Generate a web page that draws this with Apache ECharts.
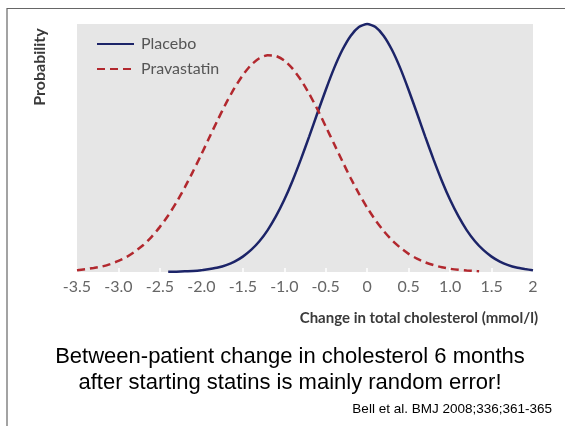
<!DOCTYPE html>
<html><head><meta charset="utf-8">
<script src="https://cdn.jsdelivr.net/npm/echarts@6/dist/echarts.min.js"></script>
<style>html,body{margin:0;padding:0;background:#fff}#c{width:565px;height:426px}</style>
</head><body><div id="c"></div>
<script>
const xTickLabels = ['-3.5','-3.0','-2.5','-2.0','-1.5','-1.0','-0.5','0','0.5','1.0','1.5','2'];
const seriesNames = ['Placebo', 'Pravastatin'];
const placeboX = [-2.4,-2.3,-2.2,-2.1,-2.0,-1.9,-1.8,-1.7,-1.6,-1.5,-1.4,-1.3,-1.2,-1.1,-1.0,-0.9,-0.8,-0.7,-0.6,-0.5,-0.4,-0.3,-0.2,-0.1,0,
  0.1,0.2,0.3,0.4,0.5,0.6,0.7,0.8,0.9,1.0,1.1,1.2,1.3,1.4,1.5,1.6,1.7,1.8,1.9,2.0];
const placeboY = [0.001,0.0015,0.003,0.004,0.007,0.012,0.018,0.028,0.042,0.062,0.089,0.124,0.169,0.225,0.291,0.368,0.454,0.546,0.641,0.734,0.821,0.895,0.952,0.988,1.0,
  0.988,0.952,0.895,0.821,0.734,0.641,0.546,0.454,0.368,0.291,0.225,0.169,0.124,0.089,0.062,0.042,0.028,0.018,0.012,0.007];
const pravaX = [-3.5,-3.4,-3.3,-3.2,-3.1,-3.0,-2.9,-2.8,-2.7,-2.6,-2.5,-2.4,-2.3,-2.2,-2.1,-2.0,-1.9,-1.8,-1.7,-1.6,-1.5,-1.4,-1.3,-1.2,-1.1,
  -1.0,-0.9,-0.8,-0.7,-0.6,-0.5,-0.4,-0.3,-0.2,-0.1,0,0.1,0.2,0.3,0.4,0.5,0.6,0.7,0.8,0.9,1.0,1.1,1.2,1.3,1.35];
const pravaY = [0.007,0.011,0.016,0.022,0.032,0.045,0.061,0.083,0.109,0.142,0.182,0.228,0.281,0.341,0.406,0.474,0.545,0.615,0.682,0.742,0.794,0.835,0.862,0.874,0.871,
  0.853,0.820,0.775,0.719,0.656,0.587,0.517,0.447,0.379,0.316,0.259,0.209,0.165,0.128,0.098,0.073,0.054,0.039,0.028,0.019,0.013,0.009,0.006,0.004,0.003];

const chart = echarts.init(document.getElementById('c'), null, {renderer: 'canvas'});
const xMin = -3.5, xMax = 2, xStep = 0.5;
const font = 'Lato';
chart.setOption({
  animation: false,
  backgroundColor: '#ffffff',
  grid: {left: 77, right: 32, top: 24, bottom: 154, show: true, backgroundColor: '#e6e6e6', borderWidth: 0},
  legend: {
    data: seriesNames, orient: 'vertical', left: 91, top: 31,
    itemWidth: 37, itemHeight: 14, itemGap: 9,
    itemStyle: {opacity: 0},
    textStyle: {fontFamily: font, fontSize: 16, color: '#555555', padding: [0,0,0,2]}
  },
  xAxis: {
    type: 'value', min: xMin, max: xMax, interval: xStep,
    axisLine: {show: false},
    axisTick: {show: true, inside: true, length: 4, lineStyle: {color: '#ffffff', width: 1.5}},
    splitLine: {show: false},
    axisLabel: {
      margin: 7, fontFamily: font, fontSize: 16, color: '#666666',
      formatter: v => xTickLabels[Math.round((v - xMin) / xStep)]
    }
  },
  yAxis: {type: 'value', min: 0, max: 1, show: false},
  series: [
    {name: seriesNames[0], type: 'line', symbol: 'none', smooth: 0.2, clip: false,
     lineStyle: {color: '#1c2468', width: 2.5}, itemStyle: {color: '#1c2468'},
     data: placeboX.map((x, i) => [x, placeboY[i]])},
    {name: seriesNames[1], type: 'line', symbol: 'none', smooth: 0.2, clip: false,
     lineStyle: {color: '#b2282e', width: 2.5, type: [8, 5]}, itemStyle: {color: '#b2282e'},
     data: pravaX.map((x, i) => [x, pravaY[i]])}
  ],
  graphic: [
    {type: 'line', shape: {x1: 7, y1: 8.5, x2: 565, y2: 8.5}, style: {stroke: '#666666', lineWidth: 1.2}},
    {type: 'line', shape: {x1: 7, y1: 8, x2: 7, y2: 426}, style: {stroke: '#666666', lineWidth: 1.2}},
    {type: 'text', x: 40, y: 67, rotation: Math.PI / 2,
     style: {text: 'Probability', font: 'bold 16px Lato', fill: '#3a3a3a', align: 'center', verticalAlign: 'middle'}},
    {type: 'text', x: 538, y: 318,
     style: {text: 'Change in total cholesterol (mmol/l)', font: 'bold 15px Lato', fill: '#3a3a3a', align: 'right', verticalAlign: 'middle'}},
    {type: 'text', x: 290, y: 357,
     style: {text: 'Between-patient change in cholesterol 6 months', font: '22px "Liberation Sans"', fill: '#000000', align: 'center', verticalAlign: 'middle'}},
    {type: 'text', x: 290, y: 383,
     style: {text: 'after starting statins is mainly random error!', font: '22px "Liberation Sans"', fill: '#000000', align: 'center', verticalAlign: 'middle'}},
    {type: 'text', x: 552, y: 409,
     style: {text: 'Bell et al. BMJ 2008;336;361-365', font: '13.5px "Liberation Sans"', fill: '#000000', align: 'right', verticalAlign: 'middle'}}
  ]
});
</script></body></html>
